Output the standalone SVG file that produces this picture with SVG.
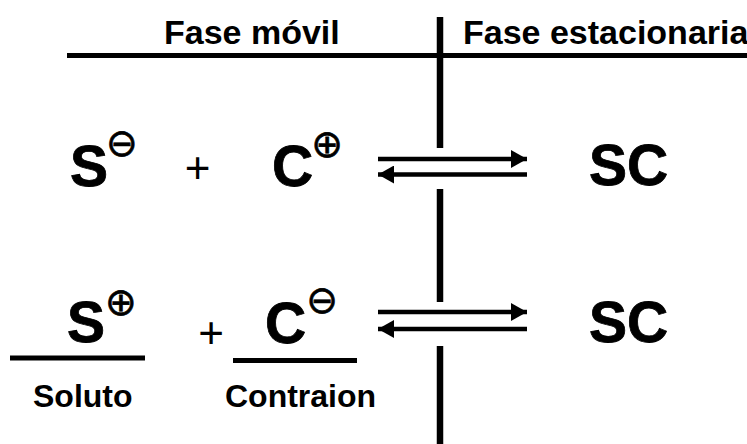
<svg xmlns="http://www.w3.org/2000/svg" width="747" height="444" viewBox="0 0 747 444">
  <defs>
    <style>
      .hdr { font-family: "Liberation Sans", Arial, sans-serif; font-weight: bold; font-size: 34px; fill: #000; }
      .big { font-family: "Liberation Sans", Arial, sans-serif; font-weight: bold; font-size: 57px; fill: #000; stroke: #000; stroke-width: 0.8; }
      .lbl { font-family: "Liberation Sans", Arial, sans-serif; font-weight: bold; font-size: 32px; fill: #000; }
      .plus { font-family: "Liberation Sans", Arial, sans-serif; font-size: 44px; fill: #000; }
      .chg { font-family: "DejaVu Sans", sans-serif; font-weight: normal; font-size: 38px; stroke: #000; stroke-width: 0.6; }
      .rule { stroke: #000; stroke-width: 5; fill: none; }
      .bar { stroke: #000; stroke-width: 6.5; fill: none; }
      .arr { stroke: #000; stroke-width: 4.7; fill: none; }
    </style>
    <marker id="head" viewBox="0 0 16 18" refX="16" refY="9" markerWidth="16" markerHeight="18" markerUnits="userSpaceOnUse" orient="auto">
      <path d="M0,0 L16,9 L0,18 Z" fill="#000"/>
    </marker>
  </defs>
  <rect width="747" height="444" fill="#fff"/>

  <!-- phase headings and dividing rules -->
  <g id="header">
    <text class="hdr" x="164" y="44">Fase móvil</text>
    <text class="hdr" x="463" y="44">Fase estacionaria</text>
    <line class="rule" x1="67" y1="55.5" x2="747" y2="55.5"/>
  </g>

  <!-- phase boundary, broken where the equilibria cross it -->
  <g id="boundary">
    <line class="bar" x1="440" y1="17" x2="440" y2="148"/>
    <line class="bar" x1="440" y1="189" x2="440" y2="302"/>
    <line class="bar" x1="440" y1="346" x2="440" y2="444"/>
  </g>

  <!-- first equilibrium: S- + C+ -->
  <g id="solute-1">
    <text class="big" x="70" y="186">S<tspan class="chg" dx="-2" dy="-30">⊖</tspan></text>
  </g>
  <g id="plus-1">
    <text class="plus" x="197.5" y="183" text-anchor="middle">+</text>
  </g>
  <g id="counterion-1">
    <text class="big" x="272" y="186">C<tspan class="chg" dx="-2" dy="-29">⊕</tspan></text>
  </g>
  <g id="complex-1">
    <text class="big" x="589" y="185">SC</text>
  </g>

  <!-- second equilibrium: S+ + C- -->
  <g id="solute-2">
    <text class="big" x="67" y="342">S<tspan class="chg" dy="-27">⊕</tspan></text>
    <line class="rule" x1="10" y1="358" x2="145" y2="358"/>
    <text class="lbl" x="33" y="407">Soluto</text>
  </g>
  <g id="plus-2">
    <text class="plus" x="211" y="348" text-anchor="middle">+</text>
  </g>
  <g id="counterion-2">
    <text class="big" x="265" y="343">C<tspan class="chg" dy="-30">⊖</tspan></text>
    <line class="rule" x1="233" y1="360.5" x2="357" y2="360.5"/>
    <text class="lbl" x="225" y="407">Contraion</text>
  </g>
  <g id="complex-2">
    <text class="big" x="589" y="342">SC</text>
  </g>

  <!-- equilibrium arrows -->
  <g id="connectors">
    <line class="arr" x1="378" y1="159" x2="527" y2="159" marker-end="url(#head)"/>
    <line class="arr" x1="527" y1="174.5" x2="378" y2="174.5" marker-end="url(#head)"/>
    <line class="arr" x1="378" y1="312" x2="527" y2="312" marker-end="url(#head)"/>
    <line class="arr" x1="527" y1="329" x2="378" y2="329" marker-end="url(#head)"/>
  </g>
</svg>
